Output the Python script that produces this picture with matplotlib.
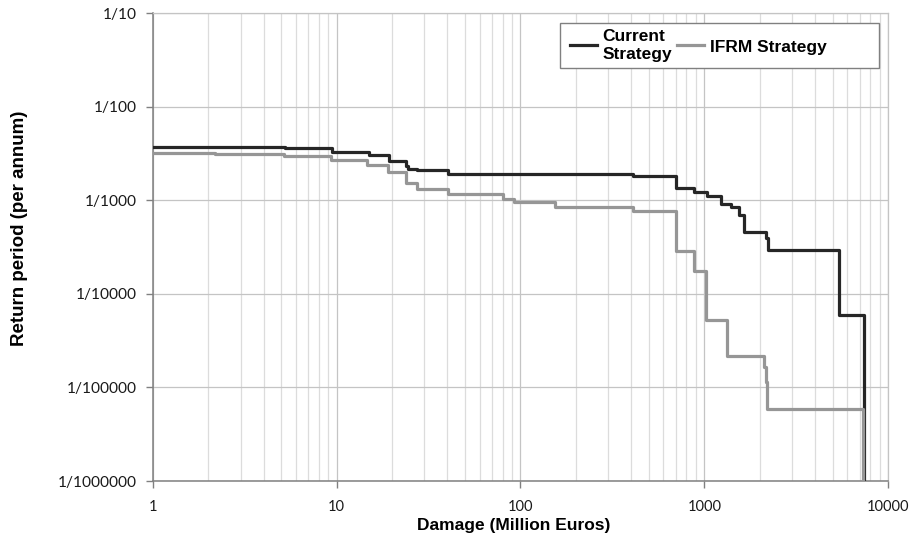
import numpy as np
import matplotlib.pyplot as plt
from matplotlib.patches import Rectangle
from matplotlib.ticker import FixedLocator, LogLocator, NullLocator

# damage (million euros) at which each step starts, and the return period (years)
current_damage = [1, 5.2, 9.4, 14.9, 19.2, 23.8, 24.5, 27.3, 40.2, 411, 705, 880,
                  1041, 1230, 1394, 1550, 1648, 2163, 2220, 5430, 7370]
current_period = [267, 275, 302, 331, 377, 427, 457, 479, 520, 550, 741, 809,
                  899, 1096, 1175, 1435, 2168, 2512, 3388, 16870, 1000000]

ifrm_damage = [1, 2.18, 5.17, 9.3, 14.6, 19, 23.8, 27.3, 40.2, 80.5, 92, 155,
               411, 705, 880, 1019, 1337, 2119, 2180, 2208, 7280]
ifrm_period = [309, 320, 336, 371, 417, 501, 646, 757, 851, 955, 1035, 1169,
               1288, 3467, 5754, 19050, 46240, 60260, 87100, 168300, 1000000]

y_periods = [10, 100, 1000, 10000, 100000, 1000000]
x_ticks = [1, 10, 100, 1000, 10000]

fig = plt.figure(figsize=(9.15, 5.38), dpi=100)
ax = fig.add_axes([0.1672, 0.1059, 0.8033, 0.8694])

ax.step(current_damage, 1 / np.array(current_period, dtype=float), where='post',
        color='#262626', lw=2.3, label='Current\nStrategy', zorder=3)
ax.step(ifrm_damage, 1 / np.array(ifrm_period, dtype=float), where='post',
        color='#969696', lw=2.3, label='IFRM Strategy', zorder=3)

ax.set_xscale('log')
ax.set_yscale('log')
ax.set_xlim(1, 10000)
ax.set_ylim(1e-6, 1e-1)

# ticks
ax.xaxis.set_major_locator(FixedLocator(x_ticks))
ax.set_xticklabels([str(v) for v in x_ticks])
ax.xaxis.set_minor_locator(LogLocator(base=10, subs=np.arange(2, 10)))
ax.yaxis.set_major_locator(FixedLocator([1 / p for p in y_periods]))
ax.set_yticklabels([f'1/{p}' for p in y_periods])
ax.yaxis.set_minor_locator(NullLocator())

for lab in ax.get_xticklabels():
    lab.set_family('Lato')
    lab.set_fontsize(10.5)
    lab.set_color('#1a1a1a')
for lab in ax.get_yticklabels():
    lab.set_family('Lato')
    lab.set_fontsize(11.2)
    lab.set_color('#1a1a1a')

ax.tick_params(which='major', length=5, width=1, color='#808080')
ax.tick_params(axis='x', which='major', pad=9)
ax.tick_params(axis='y', which='major', pad=7)
ax.tick_params(which='minor', length=0)

# grid
ax.grid(which='major', color='#c4c4c4', lw=0.9, zorder=0)
ax.grid(which='minor', axis='x', color='#dcdcdc', lw=0.9, zorder=0)
ax.set_axisbelow(True)

for side in ['left', 'bottom']:
    ax.spines[side].set_color('#808080')
    ax.spines[side].set_linewidth(1.1)
for side in ['top', 'right']:
    ax.spines[side].set_color('#c4c4c4')
    ax.spines[side].set_linewidth(0.9)

ax.set_xlabel('Damage (Million Euros)', fontsize=12.5, fontweight='bold',
              family='Liberation Sans')
ax.xaxis.set_label_coords(0.491, -0.08)
ax.set_ylabel('Return period (per annum)', fontsize=13.5, fontweight='bold',
              family='Liberation Sans')
ax.yaxis.set_label_coords(-0.170, 0.541)

# legend: Excel-style fixed box, drawn separately from the entries
ax.add_patch(Rectangle((0.5537, 0.883), 0.4341, 0.096, transform=ax.transAxes,
                       facecolor='white', edgecolor='#808080', lw=1, zorder=4))
leg = ax.legend(loc='center left', bbox_to_anchor=(0.567, 0.931), ncol=2,
                frameon=False, handlelength=1.55, handletextpad=0.35,
                columnspacing=0.25, borderpad=0, borderaxespad=0,
                prop={'family': 'Liberation Sans', 'weight': 'bold', 'size': 12.5})
leg.set_zorder(5)
for t in leg.get_texts():
    t.set_linespacing(1.2)
    t.set_multialignment('left')

fig.savefig('out.png', dpi=100, facecolor='white')
